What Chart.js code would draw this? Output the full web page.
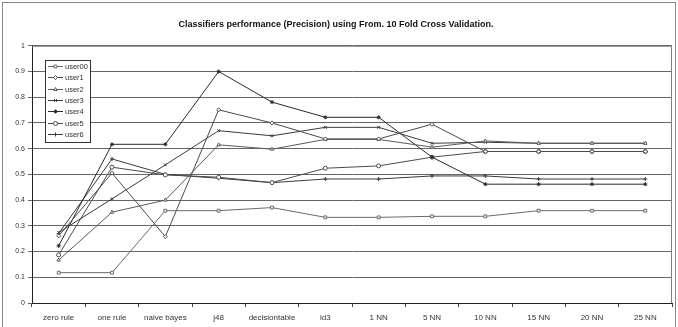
<!DOCTYPE html>
<html>
<head>
<meta charset="utf-8">
<script src="https://cdn.jsdelivr.net/npm/chart.js@4/dist/chart.umd.min.js"></script>
<style>
  html, body { margin: 0; padding: 0; background: #fff; }
  #wrap { position: relative; width: 678px; height: 327px; }
  #frame { position: absolute; left: 2px; top: 2px; width: 672px; height: 330px; border: 1px solid #888; pointer-events: none; }
</style>
</head>
<body>
<div id="wrap">
  <canvas id="perf-chart"></canvas>
  <div id="frame"></div>
</div>
<script>
const categories = ['zero rule', 'one rule', 'naive bayes', 'j48', 'decisiontable', 'id3', '1 NN', '5 NN', '10 NN', '15 NN', '20 NN', '25 NN'];
const seriesNames = ['user00', 'user1', 'user2', 'user3', 'user4', 'user5', 'user6'];
const user00 = [0.118, 0.118, 0.359, 0.359, 0.371, 0.333, 0.333, 0.337, 0.337, 0.359, 0.359, 0.359];
const user1 = [0.261, 0.505, 0.258, 0.751, 0.700, 0.638, 0.638, 0.695, 0.589, 0.589, 0.589, 0.589];
const user2 = [0.167, 0.353, 0.400, 0.615, 0.598, 0.636, 0.636, 0.606, 0.630, 0.621, 0.621, 0.621];
const user3 = [0.274, 0.405, 0.537, 0.670, 0.650, 0.683, 0.683, 0.621, 0.625, 0.621, 0.621, 0.621];
const user4 = [0.222, 0.617, 0.617, 0.900, 0.781, 0.722, 0.722, 0.567, 0.462, 0.462, 0.462, 0.462];
const user5 = [0.187, 0.528, 0.498, 0.489, 0.468, 0.524, 0.533, 0.567, 0.589, 0.589, 0.589, 0.589];
const user6 = [0.270, 0.560, 0.500, 0.485, 0.468, 0.482, 0.482, 0.494, 0.494, 0.482, 0.482, 0.482];
const yTicks = [0, 0.1, 0.2, 0.3, 0.4, 0.5, 0.6, 0.7, 0.8, 0.9, 1];

const seriesValues = [user00, user1, user2, user3, user4, user5, user6];
const markers = ['rect', 'rectRot', 'triangle', 'crossRot', 'star', 'circle', 'cross'];
const lineColors = ['#6a6a6a', '#4a4a4a', '#5a5a5a', '#3a3a3a', '#2a2a2a', '#4a4a4a', '#3a3a3a'];
const font = '"Liberation Sans", Arial, sans-serif';

// legend sits inside the plot area like the excel one
const boxLegend = {
    id: 'boxLegend',
    afterDraw(chart) {
        const ctx = chart.ctx;
        const x = 45, y = 60, w = 45, h = 82;
        ctx.save();
        ctx.fillStyle = '#fff';
        ctx.fillRect(x, y, w, h);
        ctx.strokeStyle = '#333';
        ctx.lineWidth = 1;
        ctx.strokeRect(x + 0.5, y + 0.5, w, h);
        chart.data.datasets.forEach((ds, i) => {
            const ly = Math.round(66 + i * 11.3) + 0.5;
            ctx.strokeStyle = ds.borderColor;
            ctx.beginPath();
            ctx.moveTo(48, ly);
            ctx.lineTo(63, ly);
            ctx.stroke();
            ctx.fillStyle = '#fff';
            Chart.helpers.drawPoint(ctx, {
                pointStyle: ds.pointStyle,
                radius: 2,
                rotation: 0,
                borderWidth: 1
            }, 55.5, ly);
            ctx.fillStyle = '#333';
            ctx.font = '7.5px ' + font;
            ctx.textAlign = 'left';
            ctx.textBaseline = 'middle';
            ctx.fillText(ds.label, 65, ly);
        });
        ctx.restore();
    }
};

const plotBorder = {
    id: 'plotBorder',
    beforeDatasetsDraw(chart) {
        const a = chart.chartArea;
        const ctx = chart.ctx;
        ctx.save();
        ctx.strokeStyle = '#808080';
        ctx.lineWidth = 1;
        ctx.beginPath();
        ctx.moveTo(a.left, a.top + 0.5);
        ctx.lineTo(a.right - 0.5, a.top + 0.5);
        ctx.lineTo(a.right - 0.5, a.bottom);
        ctx.stroke();
        ctx.restore();
    }
};

const datasets = seriesNames.map((name, i) => ({
    label: name,
    data: seriesValues[i],
    borderColor: lineColors[i],
    borderWidth: 1,
    backgroundColor: '#fff',
    pointStyle: markers[i],
    pointRadius: 2,
    pointBorderWidth: 1,
    pointBorderColor: lineColors[i],
    pointBackgroundColor: '#fff',
    fill: false,
    tension: 0
}));

new Chart(document.getElementById('perf-chart'), {
    type: 'line',
    data: { labels: categories, datasets: datasets },
    options: {
        responsive: true,
        maintainAspectRatio: false,
        animation: false,
        layout: { padding: { top: 0, right: 6, bottom: 0, left: 0 } },
        plugins: {
            legend: { display: false },
            tooltip: { enabled: false },
            title: {
                display: true,
                text: 'Classifiers performance (Precision) using From. 10 Fold Cross Validation.',
                color: '#111',
                font: { family: font, size: 9, weight: 'bold' },
                padding: { top: 19, bottom: 16 }
            }
        },
        scales: {
            x: {
                offset: true,
                grid: { offset: true, drawOnChartArea: false, drawTicks: true, tickLength: 4, color: '#444' },
                border: { color: '#222', width: 1 },
                ticks: { color: '#333', font: { family: font, size: 8 }, padding: 6, maxRotation: 0, autoSkip: false },
                afterFit(scale) { scale.height = 24; }
            },
            y: {
                min: 0,
                max: 1,
                afterBuildTicks(scale) { scale.ticks = yTicks.map((v) => ({ value: v })); },
                grid: { color: '#666', tickLength: 4, drawTicks: true },
                border: { color: '#222', width: 1 },
                ticks: {
                    color: '#333',
                    font: { family: font, size: 7 },
                    padding: 3,
                    callback: (v) => String(Math.round(v * 10) / 10)
                },
                afterFit(scale) { scale.width = 32; }
            }
        }
    },
    plugins: [plotBorder, boxLegend]
});
</script>
</body>
</html>
